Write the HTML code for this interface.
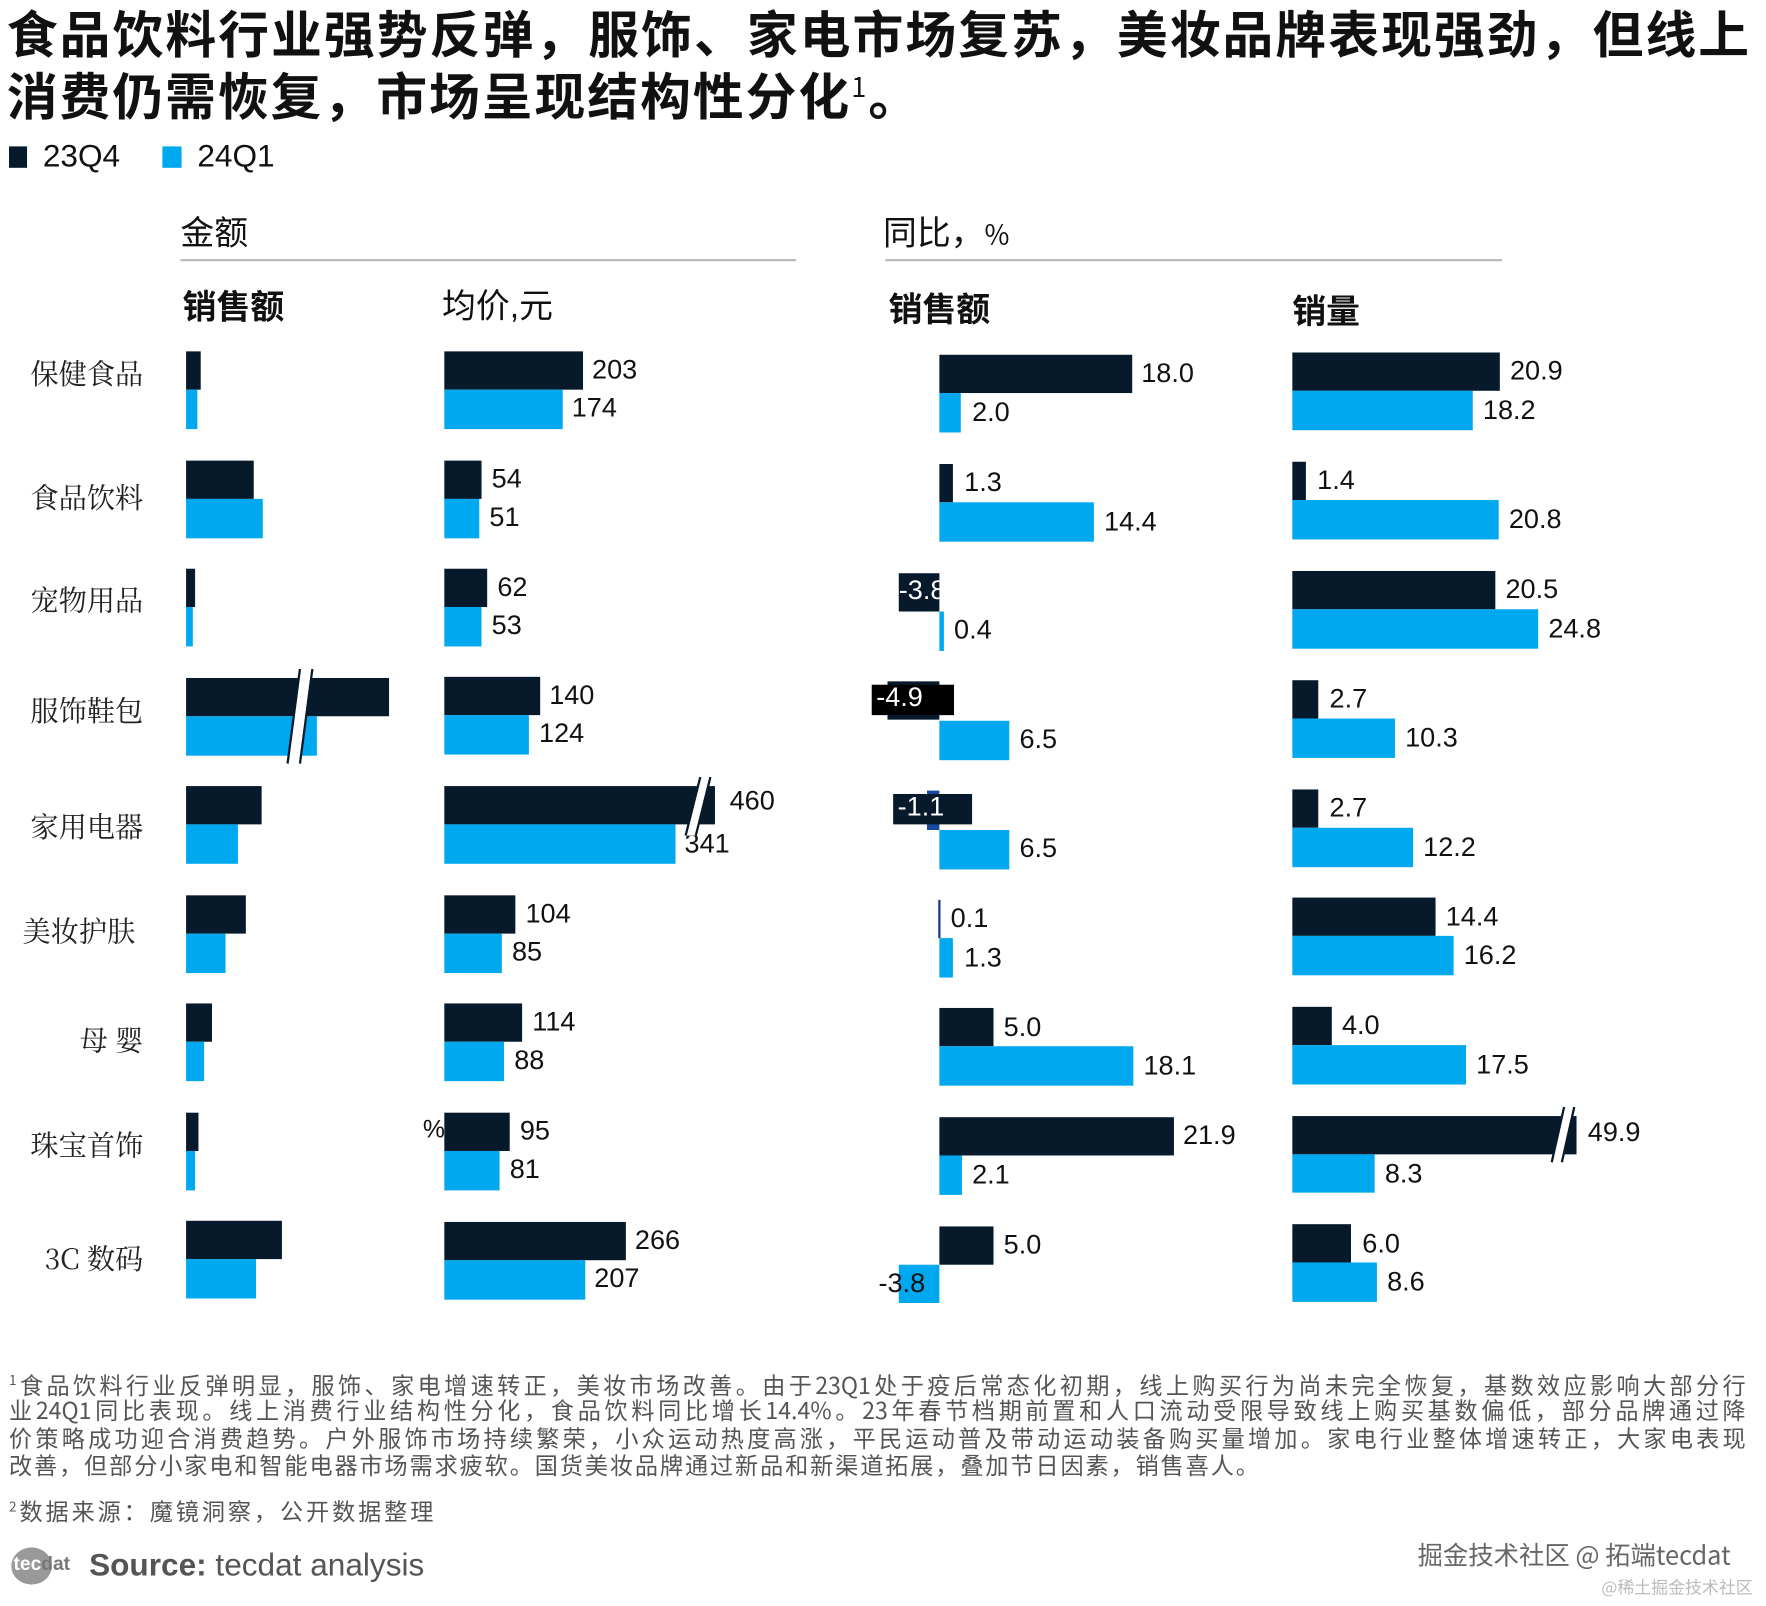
<!DOCTYPE html>
<html><head><meta charset="utf-8"><style>
html,body{margin:0;padding:0;background:#fff;width:1766px;height:1606px;overflow:hidden}
#w{position:absolute;left:0;top:0;width:1566px;height:1426px;transform:scale(1.1277,1.1262);transform-origin:0 0;font-family:"Liberation Sans","Noto Sans CJK SC",sans-serif;color:#111}
#w div{position:absolute;white-space:nowrap}
.d{background:#061a2b}.b{background:#00a8ef}
.v{font-size:24px;line-height:34px;color:#111}
.lab{font-family:"Noto Serif CJK SC","Noto Sans CJK SC",serif;font-size:25px;line-height:34px;width:110px;text-align:right;left:17px;color:#222}
.h{font-size:30px;font-weight:bold;line-height:36px}
.fn{font-size:20.5px;line-height:25px;color:#555;left:8px;width:1540px;text-align:justify;text-align-last:justify;font-family:"Noto Sans CJK SC",sans-serif}
</style></head><body><div id="w">
<div style="left:6px;top:4px;font-size:45px;line-height:48px;font-weight:bold;width:1545px;text-align:justify;text-align-last:justify;font-family:'Noto Sans CJK SC',sans-serif">食品饮料行业强势反弹，服饰、家电市场复苏，美妆品牌表现强劲，但线上</div>
<div style="left:6px;top:52px;font-size:45px;line-height:48px;font-weight:bold;letter-spacing:1.8px;font-family:'Noto Sans CJK SC',sans-serif">消费仍需恢复，市场呈现结构性分化<sup style="font-size:24px;font-weight:normal">1</sup>。</div>
<div class="d" style="left:8px;top:130px;width:16px;height:19px"></div>
<div style="left:38px;top:122px;font-size:28px;line-height:34px">23Q4</div>
<div class="b" style="left:144px;top:130px;width:17px;height:19px"></div>
<div style="left:175px;top:122px;font-size:28px;line-height:34px">24Q1</div>
<div class="h" style="left:160px;top:186px;font-weight:normal;font-family:'Noto Sans CJK SC',sans-serif">金额</div>
<div style="left:160px;top:230px;width:546px;height:2px;background:#bbb"></div>
<div class="h" style="left:783px;top:186px;font-weight:normal;font-family:'Noto Sans CJK SC',sans-serif">同比，<span style="font-size:24px">%</span></div>
<div style="left:785px;top:230px;width:547px;height:2px;background:#bbb"></div>
<div class="h" style="left:162px;top:256px">销售额</div>
<div class="h" style="left:392px;top:255px;font-weight:normal">均价,元</div>
<div class="h" style="left:788px;top:258px">销售额</div>
<div class="h" style="left:1146px;top:260px">销量</div>

<div class="lab" style="top:314px">保健食品</div>
<div class="lab" style="top:424px">食品饮料</div>
<div class="lab" style="top:515px">宠物用品</div>
<div class="lab" style="top:613px">服饰鞋包</div>
<div class="lab" style="top:716px">家用电器</div>
<div class="lab" style="top:809px;left:10px">美妆护肤</div>
<div class="lab" style="top:906px">母 婴</div>
<div class="lab" style="top:999px">珠宝首饰</div>
<div class="lab" style="top:1100px">3C 数码</div>

<div class="d" style="left:165px;top:312px;width:13px;height:34px"></div><div class="b" style="left:165px;top:346px;width:10px;height:35px"></div>
<div class="d" style="left:165px;top:409px;width:60px;height:34px"></div><div class="b" style="left:165px;top:443px;width:68px;height:35px"></div>
<div class="d" style="left:165px;top:505px;width:8px;height:34px"></div><div class="b" style="left:165px;top:539px;width:6px;height:35px"></div>
<div class="d" style="left:165px;top:602px;width:180px;height:34px"></div><div class="b" style="left:165px;top:636px;width:116px;height:35px"></div>
<div class="d" style="left:165px;top:698px;width:67px;height:34px"></div><div class="b" style="left:165px;top:732px;width:46px;height:35px"></div>
<div class="d" style="left:165px;top:795px;width:53px;height:34px"></div><div class="b" style="left:165px;top:829px;width:35px;height:35px"></div>
<div class="d" style="left:165px;top:891px;width:23px;height:34px"></div><div class="b" style="left:165px;top:925px;width:16px;height:35px"></div>
<div class="d" style="left:165px;top:988px;width:11px;height:34px"></div><div class="b" style="left:165px;top:1022px;width:8px;height:35px"></div>
<div class="d" style="left:165px;top:1084px;width:85px;height:34px"></div><div class="b" style="left:165px;top:1118px;width:62px;height:35px"></div>

<div class="d" style="left:394px;top:312px;width:123px;height:34px"></div><div class="v" style="left:525px;top:312px">203</div>
<div class="b" style="left:394px;top:346px;width:105px;height:35px"></div><div class="v" style="left:507px;top:346px">174</div>
<div class="d" style="left:394px;top:409px;width:33px;height:34px"></div><div class="v" style="left:436px;top:409px">54</div>
<div class="b" style="left:394px;top:443px;width:31px;height:35px"></div><div class="v" style="left:434px;top:443px">51</div>
<div class="d" style="left:394px;top:505px;width:38px;height:34px"></div><div class="v" style="left:441px;top:505px">62</div>
<div class="b" style="left:394px;top:539px;width:33px;height:35px"></div><div class="v" style="left:436px;top:539px">53</div>
<div class="d" style="left:394px;top:601px;width:85px;height:34px"></div><div class="v" style="left:487px;top:601px">140</div>
<div class="b" style="left:394px;top:635px;width:75px;height:35px"></div><div class="v" style="left:478px;top:635px">124</div>
<div class="d" style="left:394px;top:698px;width:240px;height:34px"></div><div class="v" style="left:647px;top:695px">460</div>
<div class="b" style="left:394px;top:732px;width:205px;height:35px"></div><div class="v" style="left:607px;top:733px">341</div>
<div class="d" style="left:394px;top:795px;width:63px;height:34px"></div><div class="v" style="left:466px;top:795px">104</div>
<div class="b" style="left:394px;top:829px;width:51px;height:35px"></div><div class="v" style="left:454px;top:829px">85</div>
<div class="d" style="left:394px;top:891px;width:69px;height:34px"></div><div class="v" style="left:472px;top:891px">114</div>
<div class="b" style="left:394px;top:925px;width:53px;height:35px"></div><div class="v" style="left:456px;top:925px">88</div>
<div class="d" style="left:394px;top:988px;width:58px;height:34px"></div><div class="v" style="left:461px;top:988px">95</div>
<div class="b" style="left:394px;top:1022px;width:49px;height:35px"></div><div class="v" style="left:452px;top:1022px">81</div>
<div class="v" style="left:375px;top:986px;font-size:22px">%</div>
<div class="d" style="left:394px;top:1085px;width:161px;height:34px"></div><div class="v" style="left:563px;top:1085px">266</div>
<div class="b" style="left:394px;top:1119px;width:125px;height:35px"></div><div class="v" style="left:527px;top:1119px">207</div>

<div class="d" style="left:833px;top:315px;width:171px;height:34px"></div><div class="v" style="left:1012px;top:315px">18.0</div>
<div class="b" style="left:833px;top:349px;width:19px;height:35px"></div><div class="v" style="left:862px;top:350px">2.0</div>
<div class="d" style="left:833px;top:412px;width:12px;height:34px"></div><div class="v" style="left:855px;top:412px">1.3</div>
<div class="b" style="left:833px;top:446px;width:137px;height:35px"></div><div class="v" style="left:979px;top:447px">14.4</div>
<div class="d" style="left:797px;top:509px;width:36px;height:34px"></div><div class="v" style="left:797px;top:508px;color:#fff;width:36px;overflow:hidden">-3.8</div>
<div class="b" style="left:833px;top:543px;width:4px;height:35px"></div><div class="v" style="left:846px;top:543px">0.4</div>
<div class="d" style="left:787px;top:605px;width:46px;height:34px"></div>
<div style="left:773px;top:608px;width:73px;height:27px;background:#000"></div><div class="v" style="left:777px;top:603px;color:#fff">-4.9</div>
<div class="b" style="left:833px;top:640px;width:62px;height:35px"></div><div class="v" style="left:904px;top:640px">6.5</div>
<div style="left:822px;top:702px;width:11px;height:35px;background:#1a4aa0"></div>
<div style="left:792px;top:705px;width:70px;height:27px;background:#061a2b"></div><div class="v" style="left:796px;top:700px;color:#fff">-1.1</div>
<div class="b" style="left:833px;top:737px;width:62px;height:35px"></div><div class="v" style="left:904px;top:737px">6.5</div>
<div style="left:832px;top:799px;width:2px;height:34px;background:#1a3a80"></div><div class="v" style="left:843px;top:799px">0.1</div>
<div class="b" style="left:833px;top:833px;width:12px;height:35px"></div><div class="v" style="left:855px;top:834px">1.3</div>
<div class="d" style="left:833px;top:895px;width:48px;height:34px"></div><div class="v" style="left:890px;top:896px">5.0</div>
<div class="b" style="left:833px;top:929px;width:172px;height:35px"></div><div class="v" style="left:1014px;top:930px">18.1</div>
<div class="d" style="left:833px;top:992px;width:208px;height:34px"></div><div class="v" style="left:1049px;top:992px">21.9</div>
<div class="b" style="left:833px;top:1026px;width:20px;height:35px"></div><div class="v" style="left:862px;top:1027px">2.1</div>
<div class="d" style="left:833px;top:1089px;width:48px;height:34px"></div><div class="v" style="left:890px;top:1089px">5.0</div>
<div class="b" style="left:797px;top:1123px;width:36px;height:34px"></div><div class="v" style="left:779px;top:1123px">-3.8</div>

<div class="d" style="left:1146px;top:313px;width:184px;height:34px"></div><div class="v" style="left:1339px;top:313px">20.9</div>
<div class="b" style="left:1146px;top:347px;width:160px;height:35px"></div><div class="v" style="left:1315px;top:348px">18.2</div>
<div class="d" style="left:1146px;top:410px;width:12px;height:34px"></div><div class="v" style="left:1168px;top:410px">1.4</div>
<div class="b" style="left:1146px;top:444px;width:183px;height:35px"></div><div class="v" style="left:1338px;top:445px">20.8</div>
<div class="d" style="left:1146px;top:507px;width:180px;height:34px"></div><div class="v" style="left:1335px;top:507px">20.5</div>
<div class="b" style="left:1146px;top:541px;width:218px;height:35px"></div><div class="v" style="left:1373px;top:542px">24.8</div>
<div class="d" style="left:1146px;top:604px;width:23px;height:34px"></div><div class="v" style="left:1179px;top:604px">2.7</div>
<div class="b" style="left:1146px;top:638px;width:91px;height:35px"></div><div class="v" style="left:1246px;top:639px">10.3</div>
<div class="d" style="left:1146px;top:701px;width:23px;height:34px"></div><div class="v" style="left:1179px;top:701px">2.7</div>
<div class="b" style="left:1146px;top:735px;width:107px;height:35px"></div><div class="v" style="left:1262px;top:736px">12.2</div>
<div class="d" style="left:1146px;top:797px;width:127px;height:34px"></div><div class="v" style="left:1282px;top:798px">14.4</div>
<div class="b" style="left:1146px;top:831px;width:143px;height:35px"></div><div class="v" style="left:1298px;top:832px">16.2</div>
<div class="d" style="left:1146px;top:894px;width:35px;height:34px"></div><div class="v" style="left:1190px;top:894px">4.0</div>
<div class="b" style="left:1146px;top:928px;width:154px;height:35px"></div><div class="v" style="left:1309px;top:929px">17.5</div>
<div class="d" style="left:1146px;top:991px;width:252px;height:34px"></div><div class="v" style="left:1408px;top:989px">49.9</div>
<div class="b" style="left:1146px;top:1025px;width:73px;height:34px"></div><div class="v" style="left:1228px;top:1026px">8.3</div>
<div class="d" style="left:1146px;top:1087px;width:52px;height:34px"></div><div class="v" style="left:1208px;top:1088px">6.0</div>
<div class="b" style="left:1146px;top:1121px;width:75px;height:35px"></div><div class="v" style="left:1230px;top:1122px">8.6</div>

<svg style="position:absolute;left:0;top:0" width="1566" height="1426">
<polygon points="266,594 277,594 266,678 255,678" fill="#fff"/>
<line x1="266" y1="594" x2="255" y2="678" stroke="#061a2b" stroke-width="2"/>
<line x1="277" y1="594" x2="266" y2="678" stroke="#061a2b" stroke-width="2"/>
<polygon points="621,690 630,690 617,742 608,742" fill="#fff"/>
<line x1="621" y1="690" x2="608" y2="742" stroke="#061a2b" stroke-width="2"/>
<line x1="630" y1="690" x2="617" y2="742" stroke="#061a2b" stroke-width="2"/>
<polygon points="1387,983 1396,983 1385,1032 1376,1032" fill="#fff"/>
<line x1="1387" y1="983" x2="1376" y2="1032" stroke="#061a2b" stroke-width="2"/>
<line x1="1396" y1="983" x2="1385" y2="1032" stroke="#061a2b" stroke-width="2"/>
</svg>

<div class="fn" style="top:1213px"><sup style="font-size:12px">1</sup>食品饮料行业反弹明显，服饰、家电增速转正，美妆市场改善。由于23Q1处于疫后常态化初期，线上购买行为尚未完全恢复，基数效应影响大部分行</div>
<div class="fn" style="top:1239px">业24Q1同比表现。线上消费行业结构性分化，食品饮料同比增长14.4%。23年春节档期前置和人口流动受限导致线上购买基数偏低，部分品牌通过降</div>
<div class="fn" style="top:1264px">价策略成功迎合消费趋势。户外服饰市场持续繁荣，小众运动热度高涨，平民运动普及带动运动装备购买量增加。家电行业整体增速转正，大家电表现</div>
<div class="fn" style="top:1288px;width:auto;text-align-last:auto;letter-spacing:1.7px">改善，但部分小家电和智能电器市场需求疲软。国货美妆品牌通过新品和新渠道拓展，叠加节日因素，销售喜人。</div>
<div class="fn" style="top:1325px;width:auto;text-align-last:auto;letter-spacing:2.6px"><sup style="font-size:12px">2</sup>数据来源：魔镜洞察，公开数据整理</div>

<div style="left:10px;top:1374px;width:36px;height:33px;border-radius:50%;background:#999"></div>
<div style="left:12px;top:1378px;font-size:17px;line-height:22px;color:#fff;font-weight:bold">tec<span style="color:#777">dat</span></div>
<div style="left:79px;top:1373px;font-size:28px;line-height:34px;color:#555"><b>Source:</b> tecdat analysis</div>
<div style="left:1257px;top:1365px;font-size:22.5px;line-height:30px;color:#666;font-family:'Noto Sans CJK SC',sans-serif">掘金技术社区 @ 拓端tecdat</div>
<div style="left:1420px;top:1400px;font-size:15px;line-height:20px;color:#bbb;font-family:'Noto Sans CJK SC',sans-serif">@稀土掘金技术社区</div>
</div></body></html>
